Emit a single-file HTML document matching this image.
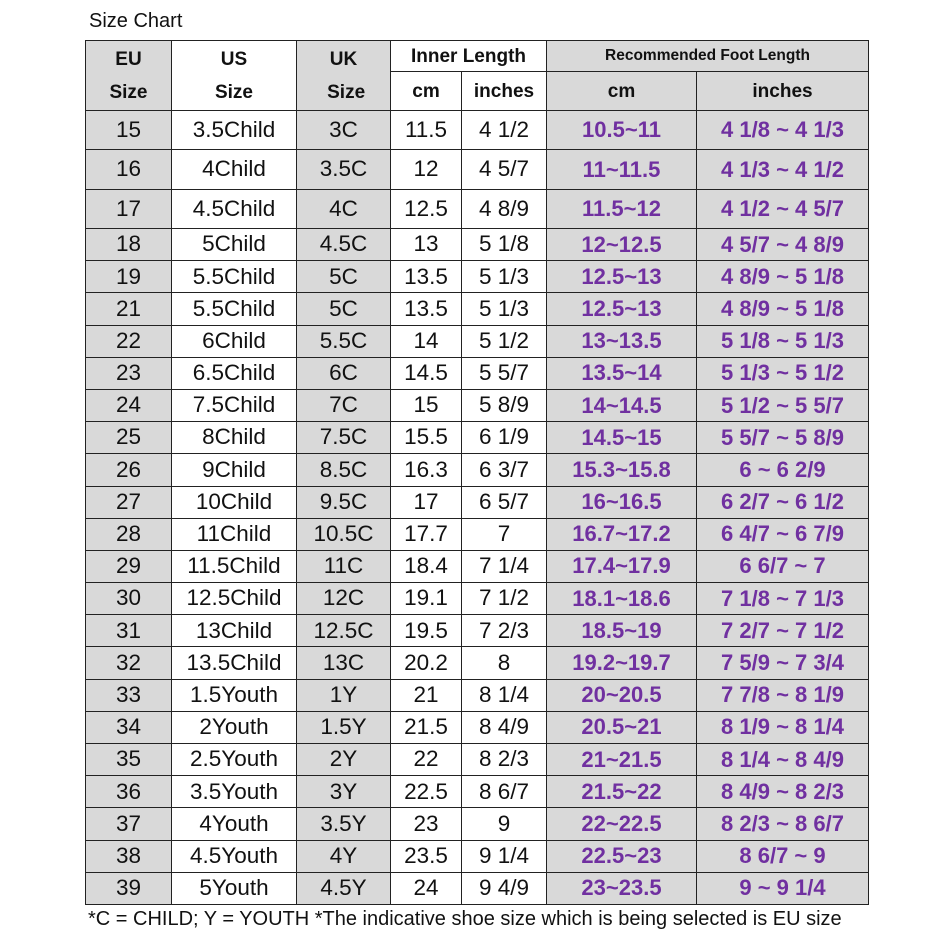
<!DOCTYPE html>
<html><head><meta charset="utf-8"><style>
html,body{margin:0;padding:0;background:#fff;width:945px;height:945px;overflow:hidden;font-family:"Liberation Sans",Arial,sans-serif;}
.title{position:absolute;left:89px;top:10px;font-size:20px;color:#111;}
table{position:absolute;left:85px;top:40px;border-collapse:collapse;table-layout:fixed;}
td{border:1.5px solid #222;padding:0;text-align:center;vertical-align:middle;font-size:22.5px;color:#111;line-height:1;overflow:hidden;white-space:nowrap;}
.g{background:#d9d9d9;}
.h{font-weight:bold;font-size:19px;}
.p{color:#7030a0;font-weight:bold;font-size:22px;}
.foot{position:absolute;left:88px;top:908px;font-family:"Liberation Sans Narrow","Liberation Sans",sans-serif;font-size:20px;color:#111;white-space:nowrap;}
</style></head><body>
<div class="title">Size Chart</div>
<table>
<colgroup><col style="width:86px"><col style="width:125px"><col style="width:94px"><col style="width:71px"><col style="width:85px"><col style="width:150px"><col style="width:172px"></colgroup>
<tr style="height:31px"><td class="g h" rowspan="2" style="line-height:33px">EU<br>Size</td><td class="h" rowspan="2" style="line-height:33px">US<br>Size</td><td class="g h" rowspan="2" style="line-height:33px">UK<br>&nbsp;Size</td><td class="h" colspan="2">Inner Length</td><td class="g h" colspan="2" style="font-size:15.5px">Recommended Foot Length</td></tr>
<tr style="height:39px"><td class="h">cm</td><td class="h">inches</td><td class="g h">cm</td><td class="g h">inches</td></tr>
<tr style="height:39px"><td class="g">15</td><td>3.5Child</td><td class="g">3C</td><td>11.5</td><td>4 1/2</td><td class="g p">10.5~11</td><td class="g p">4 1/8 ~ 4 1/3</td></tr>
<tr style="height:40px"><td class="g">16</td><td>4Child</td><td class="g">3.5C</td><td>12</td><td>4 5/7</td><td class="g p">11~11.5</td><td class="g p">4 1/3 ~ 4 1/2</td></tr>
<tr style="height:39px"><td class="g">17</td><td>4.5Child</td><td class="g">4C</td><td>12.5</td><td>4 8/9</td><td class="g p">11.5~12</td><td class="g p">4 1/2 ~ 4 5/7</td></tr>
<tr style="height:32.2px"><td class="g">18</td><td>5Child</td><td class="g">4.5C</td><td>13</td><td>5 1/8</td><td class="g p">12~12.5</td><td class="g p">4 5/7 ~ 4 8/9</td></tr>
<tr style="height:32.2px"><td class="g">19</td><td>5.5Child</td><td class="g">5C</td><td>13.5</td><td>5 1/3</td><td class="g p">12.5~13</td><td class="g p">4 8/9 ~ 5 1/8</td></tr>
<tr style="height:32.2px"><td class="g">21</td><td>5.5Child</td><td class="g">5C</td><td>13.5</td><td>5 1/3</td><td class="g p">12.5~13</td><td class="g p">4 8/9 ~ 5 1/8</td></tr>
<tr style="height:32.2px"><td class="g">22</td><td>6Child</td><td class="g">5.5C</td><td>14</td><td>5 1/2</td><td class="g p">13~13.5</td><td class="g p">5 1/8 ~ 5 1/3</td></tr>
<tr style="height:32.2px"><td class="g">23</td><td>6.5Child</td><td class="g">6C</td><td>14.5</td><td>5 5/7</td><td class="g p">13.5~14</td><td class="g p">5 1/3 ~ 5 1/2</td></tr>
<tr style="height:32.2px"><td class="g">24</td><td>7.5Child</td><td class="g">7C</td><td>15</td><td>5 8/9</td><td class="g p">14~14.5</td><td class="g p">5 1/2 ~ 5 5/7</td></tr>
<tr style="height:32.2px"><td class="g">25</td><td>8Child</td><td class="g">7.5C</td><td>15.5</td><td>6 1/9</td><td class="g p">14.5~15</td><td class="g p">5 5/7 ~ 5 8/9</td></tr>
<tr style="height:32.2px"><td class="g">26</td><td>9Child</td><td class="g">8.5C</td><td>16.3</td><td>6 3/7</td><td class="g p">15.3~15.8</td><td class="g p">6 ~ 6 2/9</td></tr>
<tr style="height:32.2px"><td class="g">27</td><td>10Child</td><td class="g">9.5C</td><td>17</td><td>6 5/7</td><td class="g p">16~16.5</td><td class="g p">6 2/7 ~ 6 1/2</td></tr>
<tr style="height:32.2px"><td class="g">28</td><td>11Child</td><td class="g">10.5C</td><td>17.7</td><td>7</td><td class="g p">16.7~17.2</td><td class="g p">6 4/7 ~ 6 7/9</td></tr>
<tr style="height:32.2px"><td class="g">29</td><td>11.5Child</td><td class="g">11C</td><td>18.4</td><td>7 1/4</td><td class="g p">17.4~17.9</td><td class="g p">6 6/7 ~ 7</td></tr>
<tr style="height:32.2px"><td class="g">30</td><td>12.5Child</td><td class="g">12C</td><td>19.1</td><td>7 1/2</td><td class="g p">18.1~18.6</td><td class="g p">7 1/8 ~ 7 1/3</td></tr>
<tr style="height:32.2px"><td class="g">31</td><td>13Child</td><td class="g">12.5C</td><td>19.5</td><td>7 2/3</td><td class="g p">18.5~19</td><td class="g p">7 2/7 ~ 7 1/2</td></tr>
<tr style="height:32.2px"><td class="g">32</td><td>13.5Child</td><td class="g">13C</td><td>20.2</td><td>8</td><td class="g p">19.2~19.7</td><td class="g p">7 5/9 ~ 7 3/4</td></tr>
<tr style="height:32.2px"><td class="g">33</td><td>1.5Youth</td><td class="g">1Y</td><td>21</td><td>8 1/4</td><td class="g p">20~20.5</td><td class="g p">7 7/8 ~ 8 1/9</td></tr>
<tr style="height:32.2px"><td class="g">34</td><td>2Youth</td><td class="g">1.5Y</td><td>21.5</td><td>8 4/9</td><td class="g p">20.5~21</td><td class="g p">8 1/9 ~ 8 1/4</td></tr>
<tr style="height:32.2px"><td class="g">35</td><td>2.5Youth</td><td class="g">2Y</td><td>22</td><td>8 2/3</td><td class="g p">21~21.5</td><td class="g p">8 1/4 ~ 8 4/9</td></tr>
<tr style="height:32.2px"><td class="g">36</td><td>3.5Youth</td><td class="g">3Y</td><td>22.5</td><td>8 6/7</td><td class="g p">21.5~22</td><td class="g p">8 4/9 ~ 8 2/3</td></tr>
<tr style="height:32.2px"><td class="g">37</td><td>4Youth</td><td class="g">3.5Y</td><td>23</td><td>9</td><td class="g p">22~22.5</td><td class="g p">8 2/3 ~ 8 6/7</td></tr>
<tr style="height:32.2px"><td class="g">38</td><td>4.5Youth</td><td class="g">4Y</td><td>23.5</td><td>9 1/4</td><td class="g p">22.5~23</td><td class="g p">8 6/7 ~ 9</td></tr>
<tr style="height:32.2px"><td class="g">39</td><td>5Youth</td><td class="g">4.5Y</td><td>24</td><td>9 4/9</td><td class="g p">23~23.5</td><td class="g p">9 ~ 9 1/4</td></tr>
</table>
<div class="foot">*C = CHILD; Y = YOUTH *The indicative shoe size which is being selected is EU size</div>
</body></html>
